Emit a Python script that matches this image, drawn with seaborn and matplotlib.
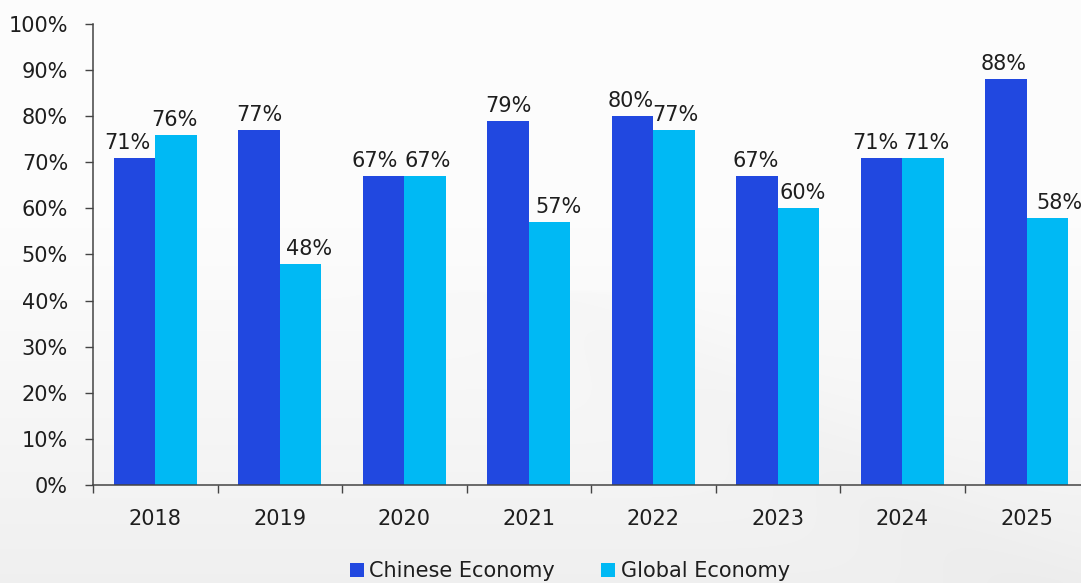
import numpy as np
import pandas as pd
import matplotlib
matplotlib.use("Agg")
import matplotlib.pyplot as plt
import seaborn as sns
from matplotlib.patches import Patch
from matplotlib.ticker import FixedLocator, PercentFormatter

years = ["2018", "2019", "2020", "2021", "2022", "2023", "2024", "2025"]
chinese = [71, 77, 67, 79, 80, 67, 71, 88]
global_ = [76, 48, 67, 57, 77, 60, 71, 58]
series = ["Chinese Economy", "Global Economy"]
colors = ["#2148E0", "#00B9F4"]

# horizontal nudges (pixels) that keep neighbouring value labels apart
nudge_chinese = [-7, 0, -9, 0, -2, -1, -6, -2]
nudge_global = [-2, 9, 3, 9, 1, 4, 3, 12]

df = pd.DataFrame({
    "year": years * 2,
    "value": chinese + global_,
    "series": [series[0]] * len(years) + [series[1]] * len(years),
})

sns.set_theme(style="white")
plt.rcParams["font.family"] = ["DejaVu Sans"]

FS = 15
W, H = 1081, 583
fig = plt.figure(figsize=(W / 100, H / 100), dpi=100)

# soft light-grey backdrop, brighter towards the top
bg = fig.add_axes([0, 0, 1, 1], zorder=-10)
yy, xx = np.mgrid[0:1:200j, 0:1:300j]
shade = 0.99 - 0.05 * np.clip((yy - 0.35) / 0.65, 0, 1) ** 1.2
shade -= 0.012 * np.exp(-((xx - yy * 0.9 - 0.05) ** 2) / 0.01) * (yy > 0.5)
bg.imshow(np.dstack([shade] * 3), aspect="auto", extent=[0, 1, 1, 0],
          interpolation="bicubic")
bg.set_axis_off()

ax = fig.add_axes([93 / W, (H - 485) / H, 996 / W, 461 / H])
ax.set_facecolor("none")

sns.barplot(data=df, x="year", y="value", hue="series", palette=colors,
            width=2 / 3, gap=0, ax=ax, legend=False, saturation=1,
            edgecolor="none")

for container, vals, nudges in zip(ax.containers, [chinese, global_],
                                   [nudge_chinese, nudge_global]):
    for bar, v, dx in zip(container.patches, vals, nudges):
        ax.annotate(f"{v:.0f}%", (bar.get_x() + bar.get_width() / 2, v),
                    xytext=(dx, 5), textcoords="offset pixels",
                    ha="center", va="bottom", fontsize=FS, color="#1e1e1e",
                    annotation_clip=False)

ax.set_ylim(0, 100)
ax.set_xlim(-0.5, len(years) - 0.5)
ax.yaxis.set_major_locator(FixedLocator(np.arange(0, 101, 10)))
ax.yaxis.set_major_formatter(PercentFormatter(decimals=0))
ax.set_xlabel("")
ax.set_ylabel("")

for s in ["top", "right"]:
    ax.spines[s].set_visible(False)
for s in ["left", "bottom"]:
    ax.spines[s].set_color("#444444")
    ax.spines[s].set_linewidth(1.1)

ax.tick_params(axis="y", which="major", left=True, length=6, width=1,
               color="#444444", labelsize=FS, labelcolor="#1e1e1e", pad=12)
ax.tick_params(axis="x", which="major", bottom=False, labelsize=FS,
               labelcolor="#1e1e1e", pad=11)
ax.xaxis.set_minor_locator(FixedLocator(np.arange(-0.5, len(years), 1.0)))
ax.tick_params(axis="x", which="minor", bottom=True, length=6, width=1,
               color="#444444")

handles = [Patch(facecolor=c, edgecolor="none") for c in colors]
fig.legend(handles, series, loc="center", bbox_to_anchor=(0.527, 0.02),
           ncol=2, frameon=False, fontsize=FS, handlelength=0.7,
           handleheight=0.7, handletextpad=0.25, columnspacing=2.2,
           labelcolor="#1e1e1e")

fig.savefig("out.png", dpi=100)
